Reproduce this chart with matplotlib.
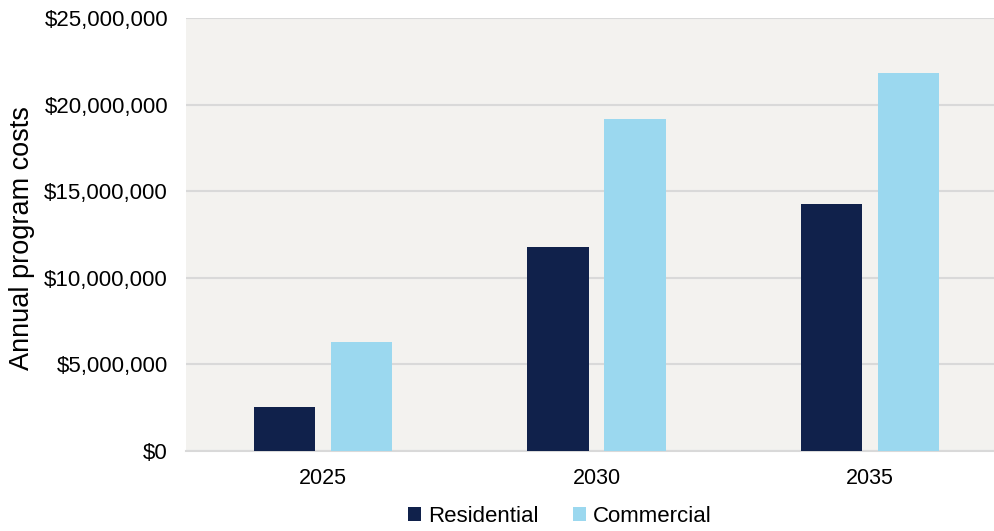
import matplotlib.pyplot as plt
import numpy as np
from matplotlib.ticker import FuncFormatter

plt.rcParams['font.family'] = ['Liberation Sans', 'DejaVu Sans']

years = ["2025", "2030", "2035"]
residential = [2.53e6, 11.75e6, 14.28e6]
commercial = [6.31e6, 19.15e6, 21.83e6]
yticks = [0, 5e6, 10e6, 15e6, 20e6, 25e6]

fig = plt.figure(figsize=(9.94, 5.31), dpi=100)
# plot area runs off the right edge of the figure
ax = fig.add_axes([186 / 994, 80 / 531, 821 / 994, 433 / 531])
ax.set_facecolor("#f3f2ef")

x = np.arange(len(years))
w = 0.224
ax.bar(x - 0.141, residential, w, color="#10214b", label="Residential", zorder=3)
ax.bar(x + 0.141, commercial, w, color="#9bd8ef", label="Commercial", zorder=3)

ax.set_xlim(-0.5, 2.5)
ax.set_ylim(0, 25e6)
ax.set_yticks(yticks)
ax.yaxis.set_major_formatter(FuncFormatter(lambda v, p: f"${v:,.0f}"))
ax.set_xticks(x)
ax.set_xticklabels(years)

ax.grid(axis="y", color="#d9d9d9", linewidth=1.5, zorder=0)
ax.set_axisbelow(True)
for s in ["top", "right", "left"]:
    ax.spines[s].set_visible(False)
ax.spines["bottom"].set_color("#d9d9d9")
ax.spines["bottom"].set_linewidth(1.5)

ax.tick_params(axis="y", length=0, pad=13, labelsize=16, colors="black")
ax.tick_params(axis="x", length=0, pad=12, labelsize=15.5, colors="black")

fig.text(22 / 994, 293 / 531, "Annual program costs", rotation=90,
         fontsize=19.5, ha="center", va="center")

fig.legend(loc="center", bbox_to_anchor=(560 / 994, 15 / 531), ncol=2,
           frameon=False, fontsize=16, handlelength=0.6, handleheight=0.6,
           handletextpad=0.3, columnspacing=1.55)

plt.savefig("out.png", dpi=100)
plt.close()
